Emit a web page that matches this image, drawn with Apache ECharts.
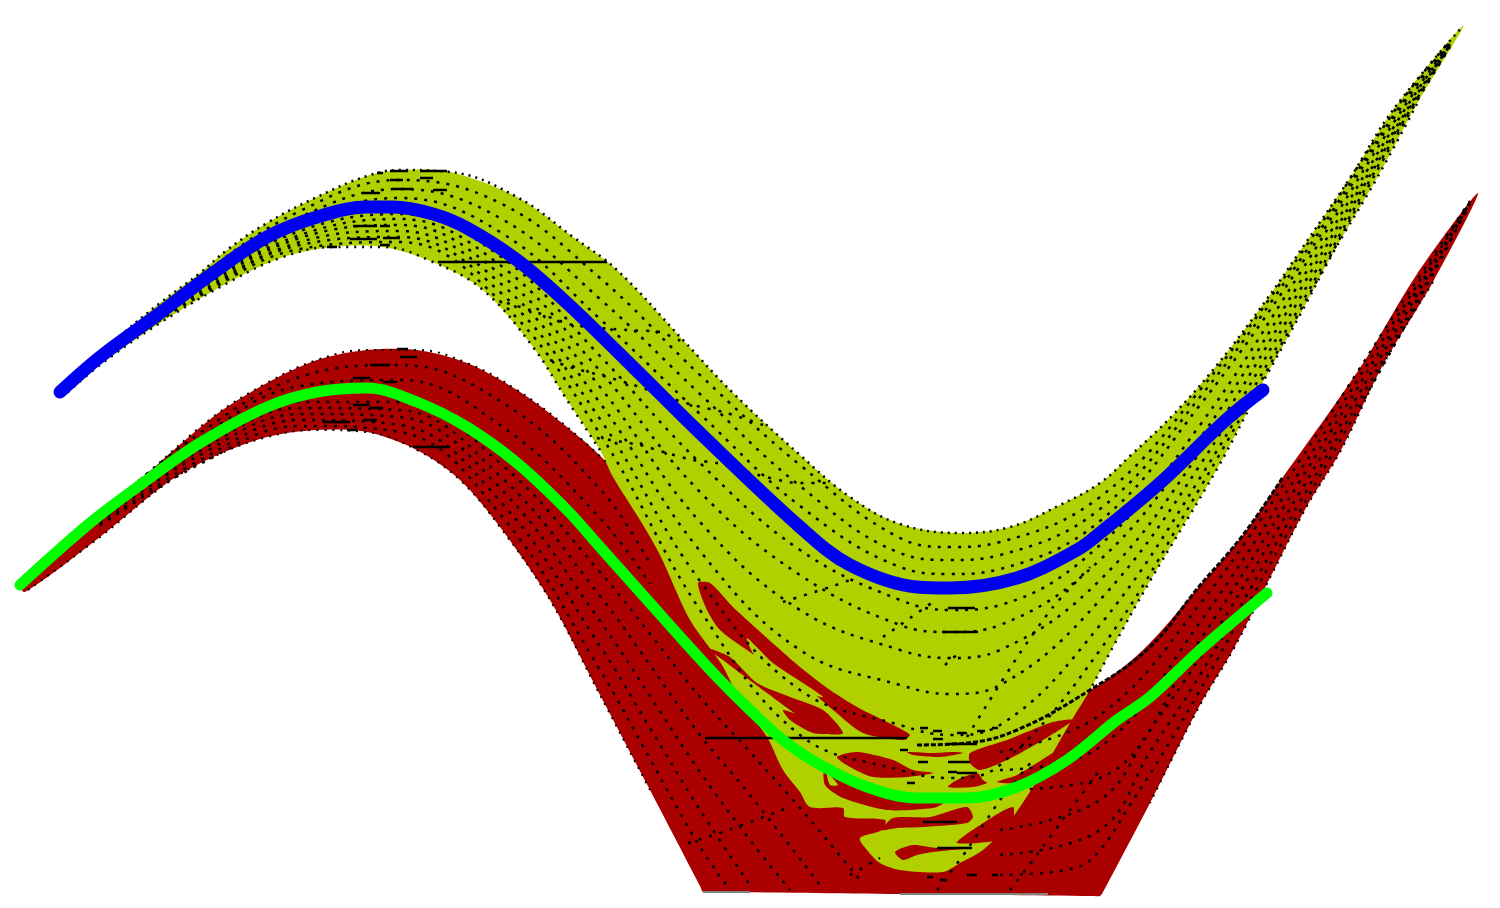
<!DOCTYPE html>
<html>
<head>
<meta charset="utf-8">
<style>
  html, body { margin: 0; padding: 0; background: #fff; }
  #chart { width: 1500px; height: 908px; }
</style>
<script src="https://cdn.jsdelivr.net/npm/echarts@6/dist/echarts.min.js"></script>
</head>
<body>
<div id="chart"></div>
<script>
// surface outlines as [x, y]
const yellowUpper = [[63,388],[100,355],[127,330],[160,303],[200,273],[227,250],[267,223],[317,197],[367,176],[400,170],[450,172],[517,197],[573,237],[617,270],[683,340],[733,393],[800,455],[850,497],[900,524],[960,533],[1010,527],[1060,505],[1100,483],[1130,456],[1173,415],[1217,365],[1267,299],[1307,241],[1350,178],[1393,110],[1463,26]]
const yellowLower = [[1417,104],[1377,178],[1333,253],[1300,315],[1263,382],[1217,469],[1150,581],[1113,647],[1090,690],[1070,723],[1033,787],[1007,825],[983,850],[960,863],[943,872],[900,870],[880,863],[867,850],[860,838],[882,830],[885,820],[845,817],[843,808],[810,807],[800,792],[783,770],[767,737],[740,700],[722,665],[690,620],[660,555],[640,520],[613,477],[600,450],[567,400],[533,347],[483,290],[433,262],[383,247],[333,247],[283,257],[233,280],[160,323],[100,365],[67,393]]
const redUpper = [[20,583],[90,520],[143,477],[213,417],[267,383],[317,360],[367,350],[417,350],[467,363],[517,390],[567,427],[607,463],[800,700],[967,745],[1090,690],[1143,650],[1197,589],[1243,535],[1283,477],[1333,407],[1367,357],[1417,274],[1478,193]]
const redLower = [[1433,282],[1383,365],[1340,452],[1307,506],[1273,572],[1233,650],[1200,705],[1150,803],[1103,892],[1100,896],[1094,896],[900,894],[709,892],[703,892],[700,886],[650,790],[600,695],[550,600],[500,527],[460,480],[417,450],[367,432],[317,430],[267,437],[213,457],[167,483],[100,537],[25,592]]

// the two thick curves
const blueCurve = [[60,392],[100,357],[160,313],[213,273],[267,237],[317,217],[367,207],[393,207],[433,214],[467,228],[517,260],[567,303],[633,367],[700,433],[800,527],[850,565],[917,587],[950,588],[1017,578],[1077,550],[1100,533],[1160,483],[1227,419],[1263,390]]
const greenCurve = [[20,585],[90,523],[143,483],[200,443],[267,407],[317,392],[367,388],[417,402],[467,427],[517,463],[567,510],[600,547],[650,603],[683,640],[717,677],[750,710],[783,740],[817,763],[867,787],[917,798],[967,798],[1017,787],[1067,760],[1117,720],[1150,697],[1200,650],[1267,593]]

// red patches poking through the yellow surface
const redPatches = [
  [[698,583],[710,583],[733,607],[747,620],[777,647],[800,667],[830,690],[857,707],[897,727],[910,735],[903,740],[863,733],[833,710],[813,693],[797,683],[777,670],[747,650],[720,630],[707,610]],
  [[707,648],[730,657],[757,683],[790,697],[823,710],[843,733],[823,733],[790,710],[767,693],[740,673],[723,660]],
  [[783,710],[803,717],[830,733],[813,733],[790,720]],
  [[825,768],[847,780],[883,795],[943,803],[933,808],[887,810],[843,798],[825,785]],
  [[882,830],[893,818],[930,817],[967,807],[973,817],[967,823],[923,827],[897,828]],
  [[895,852],[913,845],[937,848],[970,848],[933,852],[917,855],[903,860]],
  [[957,843],[977,827],[1013,807],[1007,837]],
  [[948,787],[957,780],[977,773],[983,780],[987,783],[973,787]],
  [[970,753],[1007,740],[1053,722],[1073,720],[1043,740],[1007,760],[980,770],[970,763]],
  [[997,782],[1017,775],[1070,743],[1087,740],[1067,763],[1020,783]],
  [[837,757],[857,752],[893,760],[913,770],[933,773],[907,777],[873,777],[850,767]],
  [[907,752],[933,753],[953,752],[963,753],[940,757],[913,755]]
]
const yellowFlecks = [
  [[747,638],[773,663],[803,683],[823,697],[803,692],[773,677],[753,653]],
  [[827,773],[838,785],[830,785]]
]

// yellow mesh, lengthwise curves
const meshX = [100,200,300,400,500,600,700,800,900,950,1000,1100,1200,1300,1400,1450]
const yellowMesh = [
  [356,276,211,180,203,278,375,465,538,547,542,497,390,255,103,41],
  [356,278,217,189,218,299,394,486,553,560,555,509,397,260,106,42],
  [357,280,222,198,232,319,414,506,567,574,569,521,405,266,109,43],
  [358,285,231,214,256,356,463,550,600,610,605,545,425,273,113,44],
  [358,287,235,219,265,371,492,575,625,632,625,560,438,282,117,44],
  [359,289,238,225,274,387,522,610,650,658,650,580,452,290,121,45],
  [360,292,242,231,283,403,551,650,685,694,685,600,465,298,124,46],
  [361,294,245,237,292,419,581,690,725,735,725,625,478,306,127,46],
  [361,296,249,242,301,434,610,735,770,778,765,650,488,311,130,47]
]

// yellow mesh, lines running across the band
const yellowCross = [
  [[507,303],[530,310],[573,325],[627,330],[660,332],[683,342]],
  [[550,360],[573,368],[607,377],[640,387],[667,397],[693,405],[727,413],[763,425]],
  [[597,438],[640,445],[667,453],[693,460],[717,463],[747,472],[797,483],[830,483]],
  [[783,602],[830,587],[850,580]],
  [[883,637],[903,623],[933,602]],
  [[945,665],[960,652]],
  [[967,737],[988,703],[1020,653],[1053,607],[1090,567]]
]

// red mesh, left and right arms and the lines across them
const redMeshLeft = [
  [[100,514],[200,433],[300,377],[400,365],[500,401],[600,489],[650,564]],
  [[100,514],[200,438],[300,386],[400,380],[500,425],[600,518],[650,584]],
  [[100,517],[200,447],[300,402],[400,402],[500,463],[600,572],[650,634],[700,697],[750,752],[800,808],[860,880]],
  [[100,519],[200,451],[300,408],[400,410],[500,476],[600,596],[650,665],[700,735],[750,795],[820,885]],
  [[100,521],[200,455],[300,414],[400,417],[500,488],[600,621],[650,696],[700,772],[750,840],[790,890]],
  [[100,524],[200,460],[300,420],[400,425],[500,501],[600,646],[650,728],[700,810],[750,885]],
  [[100,526],[200,464],[300,426],[400,432],[500,514],[600,670],[650,759],[700,847],[730,890]]
]
const redMeshRight = [
  [[1000,752],[1100,715],[1200,604],[1300,460],[1400,306],[1470,201]],
  [[1000,770],[1100,747],[1200,622],[1300,471],[1400,312],[1470,202]],
  [[1000,790],[1100,778],[1200,640],[1300,481],[1400,318],[1470,202]],
  [[1000,830],[1100,800],[1150,730],[1200,657],[1300,492],[1400,324],[1470,203]],
  [[1000,855],[1100,830],[1150,752],[1200,675],[1300,502],[1400,330],[1470,204]],
  [[1000,875],[1075,868],[1100,850],[1130,805],[1165,750],[1200,690],[1300,511],[1400,335],[1470,204]]
]
const redCross = [
  [[688,843],[723,832],[790,807]],
  [[850,875],[880,858]],
  [[937,890],[967,850],[1000,800],[1033,760]],
  [[1010,890],[1033,860],[1070,810],[1100,770]]
]

// solid black strokes, short dashes at the crests and in the valley, grey marks along the bottom
const solidStrokes = [
  [[438,262],[607,262]],
  [[413,447],[450,447]],
  [[705,738],[907,738]],
  [[948,608],[975,608]],
  [[942,632],[978,632]],
  [[923,822],[957,822]],
  [[937,848],[972,848]]
]
const crestDashes = [
  [[377,173],[383,173]],[[390,171],[408,171]],[[420,171],[447,171]],[[390,180],[403,180]],
  [[420,178],[433,178]],[[363,193],[380,193]],[[393,189],[413,189]],[[433,190],[447,190]],
  [[353,226],[377,226]],[[380,226],[390,226]],[[383,238],[400,238]],[[350,239],[377,239]],
  [[327,247],[337,247]],[[380,245],[390,245]],
  [[397,349],[408,349]],[[370,365],[390,365]],[[400,357],[417,357]],[[353,378],[370,378]],
  [[383,382],[397,382]],[[353,405],[370,405]],[[323,422],[350,422]],[[363,420],[377,420]],
  [[370,408],[383,408]],[[347,430],[357,430]]
]
const valleyDashes = [
  [[900,750],[908,750]],[[918,762],[928,762]],[[948,762],[970,762]],[[948,772],[957,772]],
  [[957,773],[977,773]],[[907,783],[915,783]],[[920,728],[928,728]],[[933,731],[942,731]],
  [[957,733],[967,733]],[[977,731],[985,731]],[[992,728],[998,728]],[[947,744],[977,744]],
  [[933,739],[943,739]],[[967,875],[977,875]],[[927,877],[933,877]],[[992,875],[998,875]],
  [[940,880],[947,880]]
]
const redTopEdge = [[917,745],[967,743],[1017,730],[1090,690],[1150,647],[1197,589],[1243,535],[1283,477]]
const greyMarks = [
  [[703,892],[750,892]],
  [[900,894],[1048,894]]
]

const polygon = (points, color, smooth) => ({
  type: 'custom',
  silent: true,
  clip: false,
  coordinateSystem: 'cartesian2d',
  data: points,
  encode: { x: 0, y: 1 },
  renderItem: (params, api) => {
    if (params.dataIndex !== 0) return null
    return {
      type: 'polygon',
      shape: { points: points.map(p => api.coord(p)), smooth: smooth || 0 },
      style: { fill: color }
    }
  }
})

const line = (points, color, width, dash, smooth, cap) => ({
  type: 'line',
  silent: true,
  showSymbol: false,
  smooth: smooth === undefined ? 0.4 : smooth,
  data: points,
  lineStyle: { color, width, type: dash || 'solid', cap: cap || 'butt' }
})

const option = {
  animation: false,
  backgroundColor: '#fff',
  grid: { left: 0, right: 0, top: 0, bottom: 0 },
  xAxis: { type: 'value', min: 0, max: 1500, show: false },
  yAxis: { type: 'value', min: 0, max: 908, inverse: true, show: false },
  series: [
    polygon(redUpper.concat(redLower), '#aa0000', 0.3),
    polygon(yellowUpper.concat(yellowLower), '#b0d000', 0.3),
    ...redPatches.map(p => polygon(p, '#aa0000', 0.25)),
    ...yellowFlecks.map(p => polygon(p, '#b0d000', 0.25)),
    ...yellowMesh.map(ys => line(meshX.map((x, i) => [x, ys[i]]), '#000', 2.5, [3, 7])),
    ...yellowCross.map(p => line(p, '#000', 2.5, [3, 8], 0.2)),
    ...redMeshLeft.map(p => line(p, '#000', 2.5, [3, 7])),
    ...redMeshRight.map(p => line(p, '#000', 2.5, [3, 7])),
    ...redCross.map(p => line(p, '#000', 2.5, [3, 8], 0.2)),
    line(yellowUpper, '#000', 2.5, [2, 5]),
    line(yellowLower.slice(0, 9), '#000', 2.5, [2, 6]),
    line(yellowLower.slice(33), '#000', 2.5, [2, 6]),
    line(redUpper.slice(0, 12), '#000', 2, [2, 6]),
    line(redLower.slice(0, 8), '#000', 2, [2, 6]),
    line(redLower.slice(15), '#000', 2, [2, 6]),
    line(redTopEdge, '#000', 3, [5, 2]),
    ...solidStrokes.map(p => line(p, '#000', 2.5, 'solid', 0)),
    ...crestDashes.map(p => line(p, '#000', 2.5, 'solid', 0)),
    ...valleyDashes.map(p => line(p, '#000', 2.5, 'solid', 0)),
    ...greyMarks.map(p => line(p, '#808080', 2, 'solid', 0)),
    line(blueCurve, '#0000f0', 13, 'solid', 0.35, 'round'),
    line(greenCurve, '#00ff00', 11, 'solid', 0.35, 'round')
  ]
}

const chart = echarts.init(document.getElementById('chart'))
chart.setOption(option)
window.addEventListener('resize', () => chart.resize())
</script>
</body>
</html>
